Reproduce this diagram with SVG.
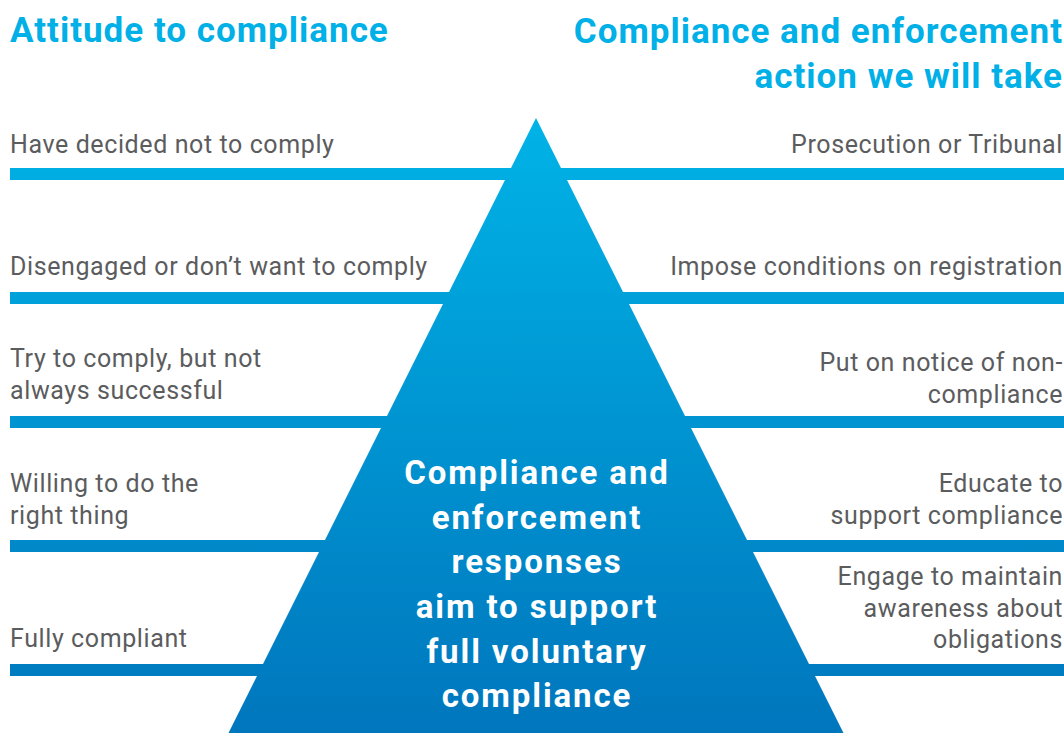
<svg xmlns="http://www.w3.org/2000/svg" width="1064" height="733" viewBox="0 0 1064 733">
  <style>
    .title { font-family: Roboto, "Liberation Sans", sans-serif; font-weight: 700; font-size: 35px; fill: #00b0e6; letter-spacing: 1px; }
    .label { font-family: Roboto, "Liberation Sans", sans-serif; font-weight: 400; font-size: 25px; fill: #5b5c5e; letter-spacing: 0.6px; }
    .right { text-anchor: end; }
    .core { font-family: Roboto, "Liberation Sans", sans-serif; font-weight: 700; font-size: 33px; fill: #ffffff; text-anchor: middle; letter-spacing: 1.9px; }
    .bar { fill: url(#blueFade); }
  </style>
  <defs>
    <linearGradient id="blueFade" gradientUnits="userSpaceOnUse" x1="0" y1="118" x2="0" y2="733">
      <stop offset="0" stop-color="#00b3e6"/>
      <stop offset="1" stop-color="#0076bd"/>
    </linearGradient>
  </defs>

  <rect width="1064" height="733" fill="#ffffff"/>

  <!-- column headings -->
  <g id="heading-attitude">
    <text class="title" x="10" y="42">Attitude to compliance</text>
  </g>
  <g id="heading-action">
    <text class="title right" x="1063" y="43">Compliance and enforcement</text>
    <text class="title right" x="1063" y="88">action we will take</text>
  </g>

  <!-- level bars running behind the pyramid -->
  <g id="connectors">
    <rect class="bar" x="10" y="168" width="1054" height="12"/>
    <rect class="bar" x="10" y="292" width="1054" height="12"/>
    <rect class="bar" x="10" y="416" width="1054" height="12"/>
    <rect class="bar" x="10" y="540" width="1054" height="12"/>
    <rect class="bar" x="10" y="664" width="1054" height="12"/>
  </g>

  <!-- pyramid -->
  <g id="pyramid">
    <polygon points="536,118 843.5,733 228.5,733" fill="url(#blueFade)"/>
    <text class="core" x="537" y="484">Compliance and</text>
    <text class="core" x="537" y="529">enforcement</text>
    <text class="core" x="537" y="573">responses</text>
    <text class="core" x="537" y="618">aim to support</text>
    <text class="core" x="537" y="663">full voluntary</text>
    <text class="core" x="537" y="707">compliance</text>
  </g>

  <!-- attitude levels -->
  <g id="attitude-1">
    <text class="label" x="10" y="153">Have decided not to comply</text>
  </g>
  <g id="attitude-2">
    <text class="label" x="10" y="275">Disengaged or don’t want to comply</text>
  </g>
  <g id="attitude-3">
    <text class="label" x="10" y="367">Try to comply, but not</text>
    <text class="label" x="10" y="399">always successful</text>
  </g>
  <g id="attitude-4">
    <text class="label" x="10" y="492">Willing to do the</text>
    <text class="label" x="10" y="524">right thing</text>
  </g>
  <g id="attitude-5">
    <text class="label" x="10" y="647">Fully compliant</text>
  </g>

  <!-- enforcement actions -->
  <g id="action-1">
    <text class="label right" x="1063" y="153">Prosecution or Tribunal</text>
  </g>
  <g id="action-2">
    <text class="label right" x="1063" y="275">Impose conditions on registration</text>
  </g>
  <g id="action-3">
    <text class="label right" x="1063" y="371">Put on notice of non-</text>
    <text class="label right" x="1063" y="403">compliance</text>
  </g>
  <g id="action-4">
    <text class="label right" x="1063" y="492">Educate to</text>
    <text class="label right" x="1063" y="524">support compliance</text>
  </g>
  <g id="action-5">
    <text class="label right" x="1063" y="585">Engage to maintain</text>
    <text class="label right" x="1063" y="617">awareness about</text>
    <text class="label right" x="1063" y="648">obligations</text>
  </g>
</svg>
